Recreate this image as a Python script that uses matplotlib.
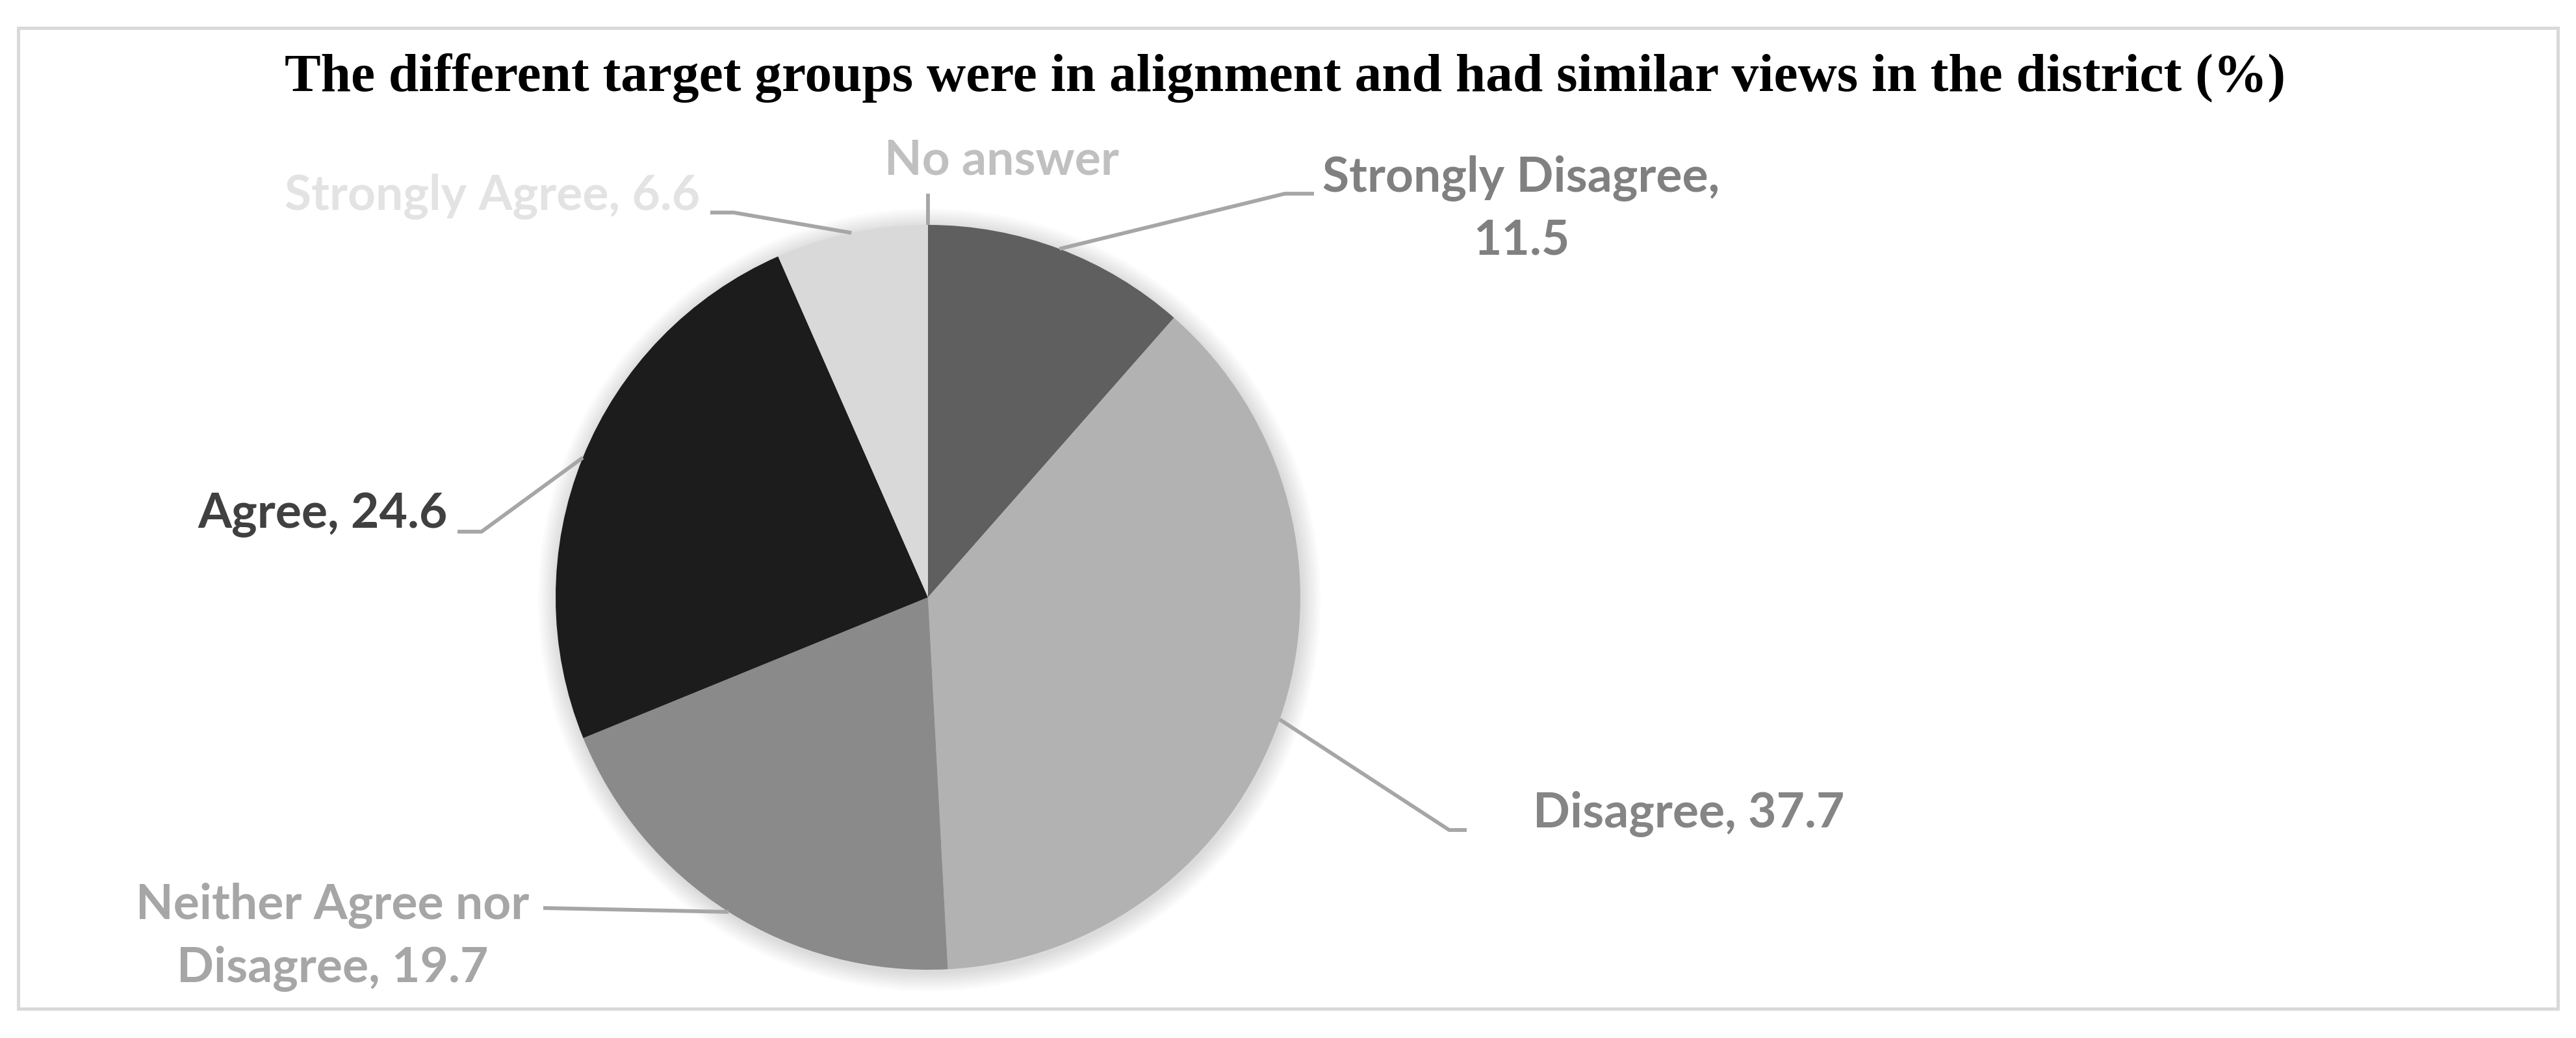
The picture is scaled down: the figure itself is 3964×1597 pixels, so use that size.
import numpy as np
import matplotlib.pyplot as plt
from matplotlib.patches import Circle, Rectangle

# survey answers, clockwise from 12 o'clock
categories = ['Strongly Disagree', 'Disagree', 'Neither Agree nor Disagree',
              'Agree', 'Strongly Agree', 'No answer']
values = [11.5, 37.7, 19.7, 24.6, 6.6, 0.0]
title = 'The different target groups were in alignment and had similar views in the district (%)'

slice_colors = ['#5f5f5f', '#b2b2b2', '#8a8a8a', '#1c1c1c', '#d9d9d9', '#bfbfbf']
label_colors = ['#808080', '#858585', '#a6a6a6', '#404040', '#e3e3e3', '#c0c0c0']

W, H = 3964, 1597
def Y(y):  # pixel-from-top -> data y
    return H - y

# label layout: elbow point, end point, text anchor, ha  (pixels from top-left)
layout = [
    ((1977, 298), (2022, 298), (2341, 322), 'center'),
    ((2230, 1277), (2257, 1277), (2359, 1252), 'left'),
    ((836, 1397), (836, 1397), (512, 1442), 'center'),
    ((741, 818), (704, 818), (689, 792), 'right'),
    ((1129, 327), (1093, 327), (1077, 303), 'right'),
    ((1428, 298), (1428, 298), (1541, 247), 'center'),
]

def make_label(cat, val):
    if val == 0:
        return cat
    txt = f'{cat}, {val:.1f}'
    if cat == 'Strongly Disagree':
        txt = f'{cat},\n{val:.1f}'
    elif cat.startswith('Neither'):
        txt = f'Neither Agree nor\nDisagree, {val:.1f}'
    return txt

fig = plt.figure(figsize=(W / 200, H / 200), dpi=200)
ax = fig.add_axes([0, 0, 1, 1])

# chart border
ax.add_patch(Rectangle((28, Y(1552)), 3908, 1509, fill=False, ec='#d9d9d9', lw=1.8))

ax.text(1978, Y(120), title, ha='center', va='center', fontsize=30,
        fontweight='bold', family='Liberation Serif', color='black')

cx, cy, r = 1428, Y(919), 573

# soft shadow
for i in range(12):
    ax.add_patch(Circle((cx + 2, cy - 4), r + 2 + i * 2.5, color='black',
                        alpha=0.012, lw=0, zorder=1))

wedges, _ = ax.pie(values, colors=slice_colors, startangle=90, counterclock=False,
                   center=(cx, cy), radius=r, frame=True,
                   wedgeprops=dict(lw=0, zorder=2))
ax.set_xlim(0, W)
ax.set_ylim(0, H)
ax.set_aspect('equal')
ax.axis('off')

for w, cat, val, col, (elbow, end, txy, ha) in zip(wedges, categories, values, label_colors, layout):
    mid = np.deg2rad((w.theta1 + w.theta2) / 2)
    sx, sy = cx + r * np.cos(mid), cy + r * np.sin(mid)
    ax.plot([sx, elbow[0], end[0]], [sy, Y(elbow[1]), Y(end[1])],
            color='#a6a6a6', lw=2.1, solid_capstyle='butt', zorder=3)
    ax.text(txy[0], Y(txy[1]), make_label(cat, val), ha=ha, va='center',
            multialignment='center', fontsize=27, fontweight='bold',
            family='Lato', color=col, linespacing=1.45, zorder=4)

fig.savefig('out.png', dpi=200)
